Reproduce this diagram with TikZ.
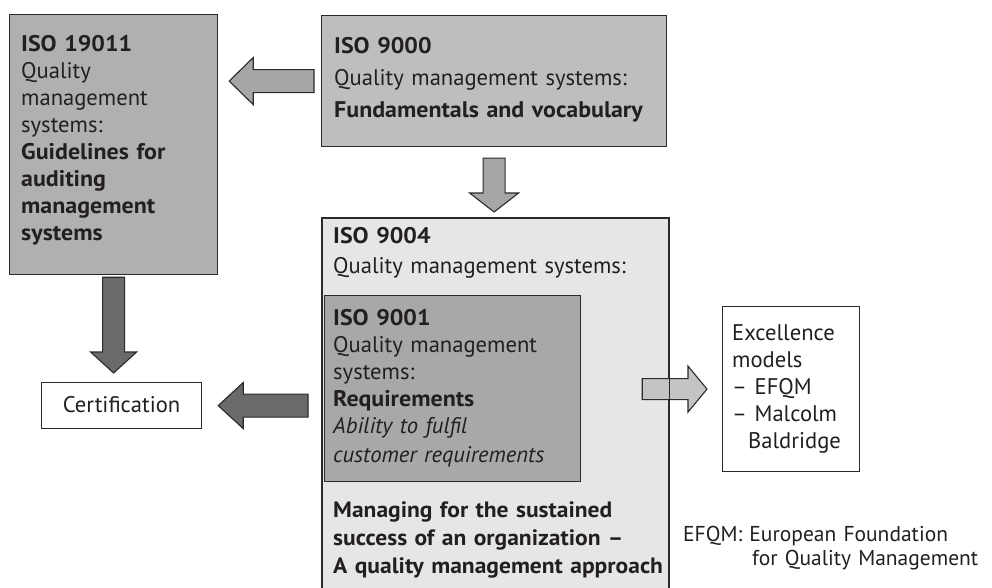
\documentclass[tikz,border=0pt]{standalone}
\usepackage{fontspec}
\setmainfont{PT Sans}[BoldFeatures={FakeStretch=1.06}]
\usetikzlibrary{calc}
\definecolor{txt}{HTML}{231F20}
\definecolor{edge}{HTML}{2A2A2A}
\definecolor{gA}{HTML}{B0B0B0}
\definecolor{gB}{HTML}{BEBEBE}
\definecolor{gC}{HTML}{E6E6E6}
\definecolor{gD}{HTML}{A8A8A8}
\definecolor{arrMid}{HTML}{A6A6A6}
\definecolor{arrDark}{HTML}{6A6A6A}
\definecolor{arrLight}{HTML}{C4C4C4}
% #1 style, #2 tail, #3 tip, #4 shaft half width, #5 head half width, #6 signed head length
\newcommand\hblockarrow[6]{%
  \draw[#1] (#3) -- ($(#3)+(#6,-#5)$) -- ($(#3)+(#6,-#4)$) -- ($(#2)+(0,-#4)$)
    -- ($(#2)+(0,#4)$) -- ($(#3)+(#6,#4)$) -- ($(#3)+(#6,#5)$) -- cycle;}
\newcommand\vblockarrow[6]{%
  \draw[#1] (#3) -- ($(#3)+(-#5,#6)$) -- ($(#3)+(-#4,#6)$) -- ($(#2)+(-#4,0)$)
    -- ($(#2)+(#4,0)$) -- ($(#3)+(#4,#6)$) -- ($(#3)+(#5,#6)$) -- cycle;}
\begin{document}
\begin{tikzpicture}[x=1pt,y=-1pt,
  box/.style={draw=edge, line width=1.2pt, rectangle, inner sep=0pt, anchor=north west},
  lbl/.style={anchor=base west, align=left, inner sep=0pt, text=txt, text width=450pt,
    font=\fontsize{22.6}{27}\selectfont},
  blk/.style={draw=edge, line width=1.1pt, line join=miter}]
\useasboundingbox (0,0) rectangle (992,588);
\clip (0,0) rectangle (992,588);

% boxes
\node[box, fill=gA, minimum width=208pt, minimum height=260pt] (n19011) at (9,14) {};
\node[box, fill=gB, minimum width=345pt, minimum height=131pt] (n9000) at (321,15) {};
\node[box, fill=gC, minimum width=346pt, minimum height=385pt] (n9004) at (322,218) {};
\node[box, fill=gD, minimum width=256pt, minimum height=186pt] (n9001) at (324,295) {};
\node[box, fill=white, minimum width=160pt, minimum height=46pt] (ncert) at (41,382) {};
\node[box, fill=white, minimum width=137pt, minimum height=165pt] (nexc) at (722,306) {};

% texts
\node[lbl] (t19011) at (21,52) {\textbf{ISO 19011}\\Quality\\management\\systems:\\\textbf{Guidelines for}\\\textbf{auditing}\\\textbf{management}\\\textbf{systems}};
\node[lbl] (t9000) at (334,54) {\textbf{ISO 9000}\\[5pt]Quality management systems:\\[5pt]\textbf{Fundamentals and vocabulary}};
\node[lbl] (t9004) at (333,243) {\textbf{ISO 9004}\\[3pt]Quality management systems:};
\node[lbl] (t9001) at (333,325) {\textbf{ISO 9001}\\Quality management\\systems:\\\textbf{Requirements}\\\textit{Ability to fulfil}\\[2pt]\textit{customer requirements}};
\node[lbl, font=\bfseries\fontsize{22.2}{28}\selectfont] (tman) at (333,517) {Managing for the sustained\\success of an organization --\\A quality management approach};
\node[text=txt, inner sep=0pt, anchor=base, font=\fontsize{22.6}{27}\selectfont] (tcert) at ($(ncert.center)+(0,7)$) {Certification};
\node[lbl] (texc) at (732,340) {Excellence\\models\\-- EFQM\\-- Malcolm\\\hspace*{16pt}Baldridge};
\node[lbl, font=\fontsize{21.5}{24}\selectfont] (tnote) at (683,541) {EFQM: European Foundation\\\hspace*{69pt}for Quality Management};

% arrow end points
\coordinate (a1s) at ($(n9000.west)+(-7,0)$);
\coordinate (a1e) at ($(n19011.east |- n9000.west)+(11,0)$);
\coordinate (a2s) at ($(n9000.south)+(0,11)$);
\coordinate (a2e) at ($(n9000.south |- n9004.north)+(0,-6)$);
\coordinate (a3s) at ($(n19011.south)+(0,2)$);
\coordinate (a3e) at ($(n19011.south |- ncert.north)+(0,-9)$);
\coordinate (a4s) at ($(n9004.west |- ncert.east)+(-14,0)$);
\coordinate (a4e) at ($(ncert.east)+(16,0)$);
\coordinate (a5s) at ($(n9004.east |- nexc.west)+(-27,0)$);
\coordinate (a5e) at ($(nexc.west)+(-15,0)$);

\hblockarrow{blk, fill=arrMid}{a1s}{a1e}{11.5}{23.5}{24}
\vblockarrow{blk, fill=arrMid}{a2s}{a2e}{11}{24.5}{-19}
\vblockarrow{blk, fill=arrDark}{a3s}{a3e}{11}{23}{-21}
\hblockarrow{blk, fill=arrDark}{a4s}{a4e}{11.5}{23}{25}
\hblockarrow{blk, fill=arrLight}{a5s}{a5e}{10.5}{23}{-19}

% border of ISO 9004 over the light arrow
\draw[draw=edge, line width=1.2pt] (n9004.north west) rectangle (n9004.south east);
\end{tikzpicture}
\end{document}
